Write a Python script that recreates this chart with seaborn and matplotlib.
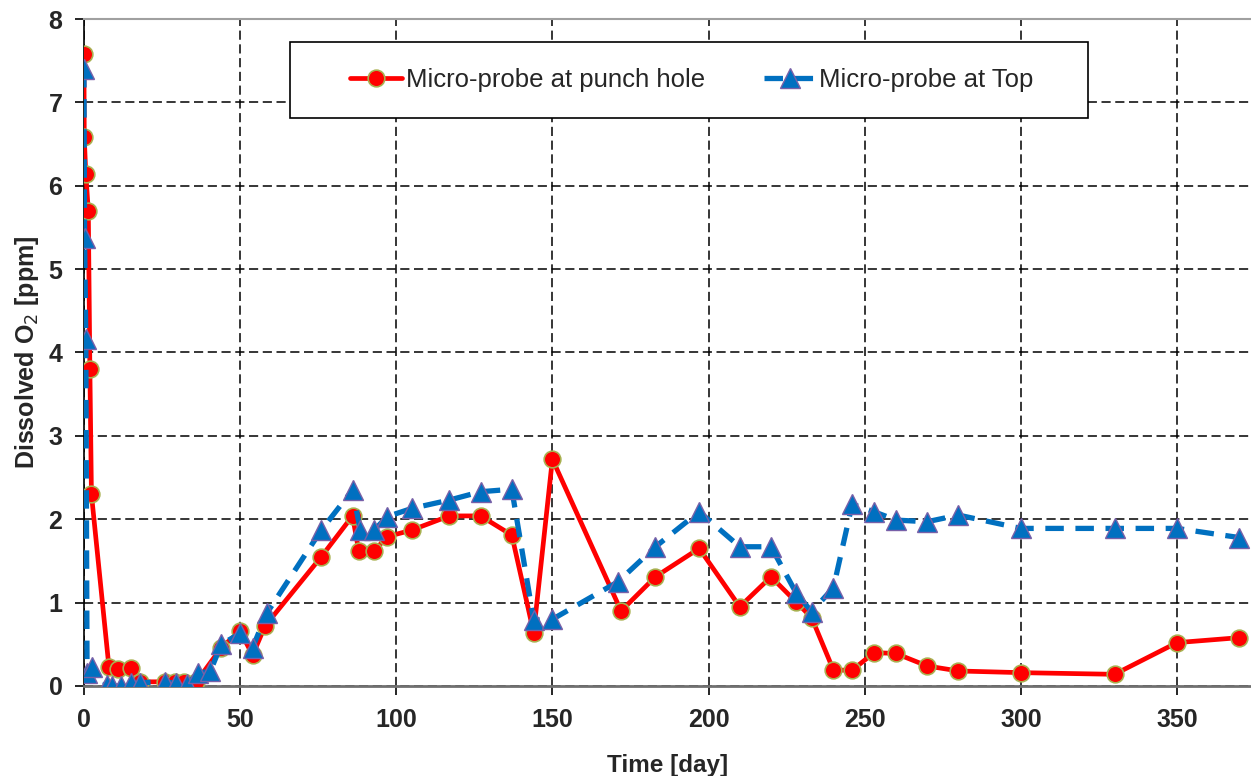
import matplotlib
matplotlib.use("Agg")
import matplotlib.pyplot as plt
from matplotlib.patches import Rectangle
import seaborn as sns
import pandas as pd

# Data
hole_days = [0, 0.1, 0.6, 1.4, 1.9, 2.4, 8, 11, 15, 18, 26, 29, 32, 36, 44, 50, 54, 58,
             76, 86, 88, 93, 97, 105, 117, 127, 137, 144, 150, 172, 183, 197, 210, 220,
             228, 233, 240, 246, 253, 260, 270, 280, 300, 330, 350, 370]
hole_o2 = [7.58, 6.58, 6.14, 5.70, 3.80, 2.30, 0.23, 0.20, 0.21, 0.05, 0.05, 0.05, 0.05, 0.05,
           0.46, 0.66, 0.37, 0.72, 1.55, 2.04, 1.62, 1.62, 1.79, 1.87, 2.04, 2.04, 1.81, 0.64,
           2.72, 0.90, 1.31, 1.65, 0.95, 1.31, 1.01, 0.82, 0.19, 0.19, 0.40, 0.39, 0.24, 0.18,
           0.16, 0.14, 0.52, 0.58]

top_days = [0, 0.2, 0.6, 1, 2.5, 7.5, 9, 12, 15, 18, 26, 29.5, 33, 36.5, 40.5, 44, 50, 54, 58.5,
            76, 86, 88.5, 93, 97, 105, 117, 127, 137, 144, 150, 171, 183, 197, 210, 220, 228,
            233, 240, 246, 253, 260, 270, 280, 300, 330, 350, 370]
top_o2 = [7.40, 5.37, 4.16, 0.15, 0.23, 0.01, 0.0, 0.0, 0.03, 0.04, 0.05, 0.03, 0.02, 0.15, 0.18,
          0.50, 0.63, 0.46, 0.87, 1.87, 2.35, 1.87, 1.87, 2.03, 2.13, 2.23, 2.33, 2.36, 0.79,
          0.80, 1.25, 1.67, 2.09, 1.67, 1.67, 1.12, 0.89, 1.18, 2.18, 2.09, 1.99, 1.97, 2.05,
          1.89, 1.89, 1.89, 1.78]

series_names = ["Micro-probe at punch hole", "Micro-probe at Top"]
x_ticks = [0, 50, 100, 150, 200, 250, 300, 350]
y_ticks = [0, 1, 2, 3, 4, 5, 6, 7, 8]

sns.set_theme(style="white")
plt.rcParams['font.family'] = ['Liberation Sans', 'DejaVu Sans']

df_hole = pd.DataFrame({"day": hole_days, "o2": hole_o2})
df_top = pd.DataFrame({"day": top_days, "o2": top_o2})

fig = plt.figure(figsize=(12.51, 7.76), dpi=100)
ax = fig.add_axes([0.0671, 0.116, 0.9329, 0.8595])

sns.lineplot(data=df_hole, x="day", y="o2", ax=ax, sort=False, estimator=None,
             color="#ff0000", linewidth=3.4, marker="o", markersize=12,
             markerfacecolor="#ff0000", markeredgecolor="#a8b050", markeredgewidth=1.2,
             label=series_names[0], zorder=3)
sns.lineplot(data=df_top, x="day", y="o2", ax=ax, sort=False, estimator=None,
             color="#0070c0", linewidth=3.8, linestyle=(0, (3.5, 2.2)), marker="^",
             markersize=15, markerfacecolor="#0070c0", markeredgecolor="#7860a8",
             markeredgewidth=1.0, label=series_names[1], zorder=4)

ax.set_xlim(0, 373.7)
ax.set_ylim(0, 8)
ax.set_xticks(x_ticks)
ax.set_yticks(y_ticks)
ax.set_xticklabels([str(t) for t in x_ticks], fontsize=18, fontweight="bold")
ax.set_yticklabels([str(t) for t in y_ticks], fontsize=18, fontweight="bold")
ax.tick_params(axis="both", direction="out", length=6.5, width=1.2, color="black",
               pad=9, bottom=True, left=True)

ax.grid(True, color="black", linestyle=(0, (6, 3)), linewidth=1.1)
ax.set_axisbelow(True)

ax.set_xlabel("Time [day]", fontsize=17.5, fontweight="bold", labelpad=16)
ax.set_ylabel("Dissolved O$_2$ [ppm]", fontsize=18, fontweight="bold", labelpad=5)

ax.spines["right"].set_visible(False)
ax.spines["left"].set_color("black")
ax.spines["left"].set_linewidth(1.2)
ax.spines["bottom"].set_color("#707070")
ax.spines["bottom"].set_linewidth(2)
ax.spines["top"].set_color("#a0a0a0")
ax.spines["top"].set_linewidth(1.5)

# legend frame
frame = Rectangle((0.1765, 0.8516), 0.6838, 0.1139, transform=ax.transAxes,
                  facecolor="white", edgecolor="black", linewidth=1.2, zorder=9)
ax.add_patch(frame)

leg = ax.legend(loc="center", bbox_to_anchor=(0.521, 0.9085), ncol=2, frameon=False,
                handlelength=2.0, handletextpad=0.15, columnspacing=2.3,
                prop={"family": ["Liberation Sans Narrow", "DejaVu Sans Condensed",
                                 "Liberation Sans"], "size": 18.5})
leg.set_zorder(10)

fig.savefig("out.png", dpi=100)
